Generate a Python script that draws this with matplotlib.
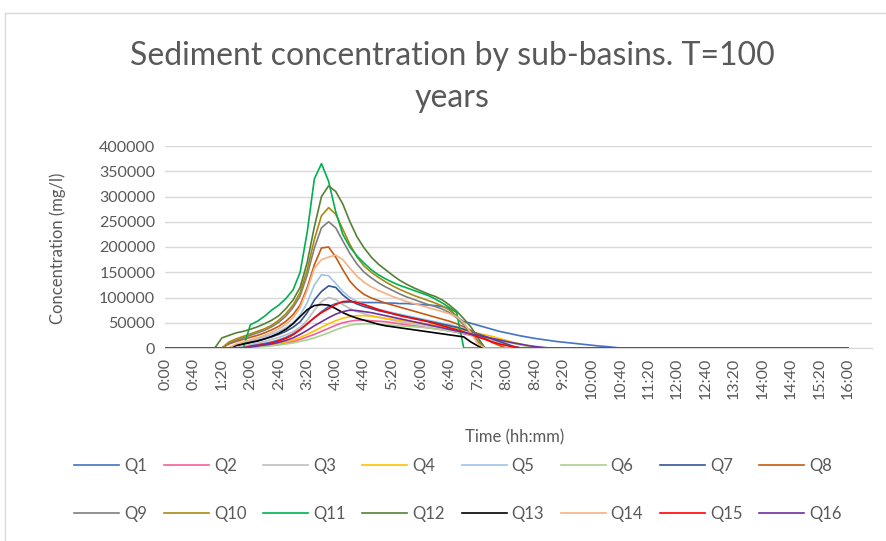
import numpy as np
import matplotlib
matplotlib.use("Agg")
import matplotlib.pyplot as plt

plt.rcParams['font.family'] = ['Lato', 'DejaVu Sans']

# time axis: minutes, 10-min steps from 0:00 to 16:00
step = 10
t = np.arange(0, 961, step)

names = [f"Q{i}" for i in range(1, 17)]
colors_ = ['#4472C4', '#F5609A', '#BFBFBF', '#FFC000', '#9DC3E6', '#A9D18E',
           '#335593', '#C55A11', '#7F7F7F', '#A88A12', '#00B050', '#548235',
           '#000000', '#F4B183', '#FF0000', '#7030A0']

# each series: first minute with a value, then the values (mg/l); zero elsewhere
q1_start = 100
q1 = [0, 3000, 5000, 7000, 9000, 12000, 16000, 21000, 28000, 37000, 48000, 60000,
      72000, 82000, 88000, 90000, 91000, 91000, 90000, 90000, 90000, 89000, 89000,
      88000, 88000, 87000, 86000, 85000, 84000, 82000, 78000, 62000, 52000, 49000,
      45000, 41000, 37000, 33000, 30000, 27000, 24000, 21500, 19000, 17000, 15000,
      13000, 11500, 10000, 8500, 7000, 5500, 4000, 3000, 1500, 0]
q2_start = 110
q2 = [0, 1500, 3000, 4500, 6000, 8000, 10000, 13000, 17000, 22000, 27000, 33000,
      39000, 45000, 50000, 53000, 55000, 55000, 54000, 53000, 52000, 50000, 48000,
      46000, 44000, 42000, 40000, 38000, 36000, 34000, 31000, 28000, 25000, 22000,
      19000, 15000, 11000, 7000, 3000, 0]
q3_start = 100
q3 = [0, 4000, 7000, 10000, 13000, 17000, 21000, 26000, 32000, 41000, 55000, 75000,
      92000, 100000, 96000, 86000, 78000, 72000, 68000, 64000, 61000, 58000, 55000,
      52000, 50000, 48000, 46000, 44000, 42000, 40000, 37000, 34000, 30000, 26000,
      22000, 18000, 14000, 10000, 6000, 3000, 0]
q4_start = 110
q4 = [0, 2000, 3000, 5000, 7000, 9000, 12000, 16000, 21000, 27000, 34000, 41000,
      48000, 54000, 59000, 62000, 64000, 64000, 63000, 61000, 59000, 57000, 55000,
      53000, 51000, 49000, 47000, 45000, 43000, 41000, 38000, 35000, 32000, 29000,
      26000, 23000, 19000, 15000, 11000, 8000, 5000, 2000, 0]
q5_start = 90
q5 = [0, 6000, 10000, 14000, 18000, 22000, 27000, 33000, 40000, 50000, 65000, 90000,
      125000, 145000, 143000, 128000, 112000, 100000, 92000, 86000, 81000, 77000,
      73000, 70000, 67000, 64000, 61000, 58000, 55000, 52000, 49000, 46000, 42000,
      38000, 33000, 28000, 23000, 18000, 13000, 8000, 3000, 0]
q6_start = 120
q6 = [0, 2000, 3000, 4500, 6000, 8000, 10000, 13000, 16000, 20000, 25000, 30000,
      36000, 41000, 45000, 47000, 48000, 48000, 47000, 46000, 45000, 44000, 43000,
      42000, 41000, 40000, 38000, 36000, 34000, 32000, 30000, 27000, 24000, 21000,
      18000, 15000, 12000, 9000, 6000, 3000, 0]
q7_start = 90
q7 = [0, 5000, 8000, 11000, 14000, 18000, 22000, 27000, 33000, 41000, 52000, 70000,
      95000, 112000, 123000, 120000, 105000, 94000, 87000, 82000, 78000, 74000,
      71000, 68000, 65000, 62000, 59000, 56000, 53000, 50000, 47000, 44000, 41000,
      37000, 33000, 28000, 23000, 18000, 13000, 8000, 3000, 0]
q8_start = 80
q8 = [0, 8000, 13000, 17000, 21000, 25000, 30000, 36000, 43000, 53000, 66000, 85000,
      120000, 165000, 198000, 200000, 180000, 155000, 132000, 117000, 106000, 99000,
      94000, 89000, 85000, 81000, 77000, 73000, 69000, 65000, 61000, 57000, 53000,
      48000, 42000, 35000, 27000, 19000, 11000, 5000, 0]
q9_start = 80
q9 = [0, 10000, 15000, 20000, 25000, 30000, 35000, 42000, 51000, 63000, 80000,
      103000, 145000, 198000, 238000, 250000, 238000, 212000, 187000, 166000, 150000,
      139000, 129000, 121000, 114000, 107000, 101000, 96000, 91000, 86000, 82000,
      77000, 70000, 60000, 46000, 30000, 14000, 0]
q10_start = 80
q10 = [0, 12000, 18000, 23000, 28000, 33000, 38000, 45000, 55000, 68000, 85000,
       110000, 155000, 215000, 262000, 278000, 265000, 235000, 205000, 180000, 162000,
       150000, 140000, 131000, 123000, 116000, 110000, 104000, 99000, 94000, 89000,
       83000, 75000, 63000, 48000, 30000, 12000, 0]
q11_start = 110
q11 = [0, 46000, 53000, 63000, 75000, 85000, 98000, 115000, 150000, 230000, 335000,
       365000, 330000, 270000, 225000, 200000, 182000, 168000, 155000, 145000, 137000,
       130000, 124000, 119000, 114000, 109000, 104000, 97000, 89000, 80000, 70000, 0]
q12_start = 70
q12 = [0, 20000, 25000, 30000, 33000, 37000, 42000, 48000, 55000, 64000, 78000, 95000,
       120000, 170000, 240000, 300000, 321000, 310000, 285000, 250000, 220000, 198000,
       180000, 166000, 155000, 144000, 134000, 126000, 119000, 113000, 107000, 102000,
       95000, 85000, 73000, 58000, 42000, 20000, 0]
q13_start = 90
q13 = [0, 5000, 8000, 11000, 14000, 18000, 23000, 29000, 37000, 48000, 62000, 76000,
       84000, 86000, 85000, 78000, 70000, 64000, 59000, 55000, 51000, 47000, 44000,
       42000, 40000, 38000, 36000, 34000, 32000, 30000, 28000, 26000, 24000, 22000,
       12000, 4000, 0]
q14_start = 90
q14 = [0, 8000, 12000, 16000, 20000, 25000, 31000, 38000, 47000, 60000, 80000,
       115000, 158000, 175000, 180000, 184000, 175000, 158000, 142000, 130000, 121000,
       114000, 108000, 102000, 97000, 92000, 88000, 84000, 80000, 76000, 72000, 68000,
       62000, 50000, 30000, 8000, 0]
q15_start = 110
q15 = [0, 3000, 5000, 7000, 10000, 14000, 19000, 26000, 36000, 48000, 60000, 70000,
       78000, 86000, 92000, 93000, 90000, 86000, 81000, 76000, 72000, 68000, 64000,
       61000, 58000, 55000, 52000, 48000, 44000, 40000, 36000, 32000, 27000, 22000,
       17000, 12000, 8000, 5000, 2000, 0]
q16_start = 110
q16 = [0, 2000, 4000, 6000, 8000, 11000, 15000, 20000, 27000, 35000, 44000, 52000,
       60000, 67000, 72000, 75000, 74000, 72000, 70000, 67000, 64000, 61000, 58000,
       55000, 52000, 49000, 46000, 43000, 40000, 37000, 34000, 31000, 28000, 25000,
       22000, 19000, 16000, 13000, 10000, 7500, 5000, 3000, 1500, 0]

starts = [q1_start, q2_start, q3_start, q4_start, q5_start, q6_start, q7_start, q8_start,
          q9_start, q10_start, q11_start, q12_start, q13_start, q14_start, q15_start, q16_start]
series = [q1, q2, q3, q4, q5, q6, q7, q8, q9, q10, q11, q12, q13, q14, q15, q16]

x_ticks = np.arange(0, 961, 40)
x_labels = [f"{m // 60}:{m % 60:02d}" for m in x_ticks]
y_ticks = np.arange(0, 400001, 50000)

txt = '#595959'

fig = plt.figure(figsize=(8.86, 5.41), dpi=100)
ax = fig.add_axes([165 / 886, 1 - 348 / 541, (872 - 165) / 886, (348 - 146) / 541])

for name, c, s0, vals in zip(names, colors_, starts, series):
    y = np.zeros(len(t))
    i0 = s0 // step
    y[i0:i0 + len(vals)] = vals
    ax.plot(t, y, color=c, lw=1.2, label=name)

ax.set_xlim(0, 994)
ax.set_ylim(0, 400000)
ax.set_yticks(y_ticks)
ax.set_yticklabels([str(v) for v in y_ticks], fontsize=11.5, color=txt)
ax.set_xticks(x_ticks)
ax.set_xticklabels(x_labels, rotation=90, fontsize=11.5, color=txt)
ax.tick_params(length=0, pad=7)
ax.grid(axis='y', color='#D9D9D9', lw=1.0)
ax.set_axisbelow(True)
for sp in ['top', 'right', 'left']:
    ax.spines[sp].set_visible(False)
ax.spines['bottom'].set_color('#D9D9D9')

fig.text(452 / 886, 1 - 56 / 541, "Sediment concentration by sub-basins. T=100",
         ha='center', va='center', fontsize=23, color=txt)
fig.text(452 / 886, 1 - 98 / 541, "years",
         ha='center', va='center', fontsize=23, color=txt)
fig.text(58 / 886, 1 - 248 / 541, "Concentration (mg/l)", rotation=90,
         ha='center', va='center', fontsize=12, color=txt)
fig.text(515 / 886, 1 - 437 / 541, "Time (hh:mm)", ha='center', va='center',
         fontsize=12, color=txt)

# legend row-wise: reorder handles for column-first filling
h, l = ax.get_legend_handles_labels()
order = []
for k in range(8):
    order += [k, k + 8]
fig.legend([h[i] for i in order], [l[i] for i in order], ncol=8,
           loc='center', bbox_to_anchor=(458 / 886, 1 - 490 / 541), frameon=False,
           fontsize=12, labelcolor=txt, handlelength=2.7, handletextpad=0.3,
           columnspacing=1.0, labelspacing=1.9)

# chart border
fig.add_artist(plt.Line2D([5 / 886, 5 / 886], [0, 1 - 13 / 541], color='#D9D9D9',
                          lw=1, transform=fig.transFigure))
fig.add_artist(plt.Line2D([5 / 886, 1], [1 - 13 / 541, 1 - 13 / 541], color='#D9D9D9',
                          lw=1, transform=fig.transFigure))

fig.savefig('out.png', dpi=100)
